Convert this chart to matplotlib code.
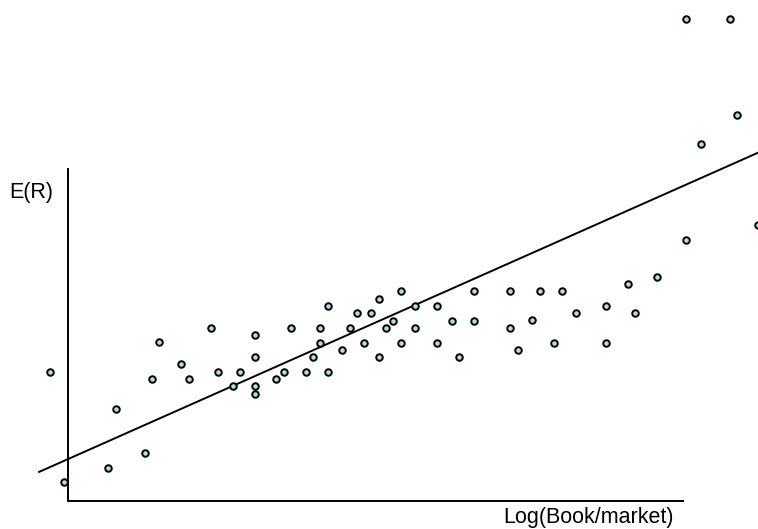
import matplotlib
matplotlib.use("Agg")
import matplotlib.pyplot as plt
import numpy as np

# scatter of expected return vs log(book/market), axis units are arbitrary
log_bm = [-0.29, -0.07, 0.65, 0.78, 1.25, 1.37, 1.48, 1.84, 1.97, 2.33,
          2.44, 2.68, 2.80, 3.04, 3.04, 3.04, 3.04, 3.38, 3.51, 3.63,
          3.87, 3.98, 4.10, 4.10, 4.23, 4.23, 4.46, 4.59, 4.70, 4.81,
          4.93, 5.06, 5.06, 5.17, 5.28, 5.41, 5.41, 5.64, 5.64, 6.00,
          6.00, 6.24, 6.36, 6.60, 6.60, 7.19, 7.19, 7.32, 7.54, 7.67,
          7.90, 8.03, 8.26, 8.75, 8.75, 9.11, 9.22, 9.58, 10.05, 10.29,
          10.05, 10.76, 10.88, 11.22]
exp_ret = [3.11, 0.46, 0.80, 2.22, 1.16, 2.94, 3.83, 3.30, 2.94, 4.17,
           3.11, 2.77, 3.11, 4.00, 3.47, 2.77, 2.58, 2.94, 3.11, 4.17,
           3.11, 3.47, 4.17, 3.81, 3.11, 4.70, 3.64, 4.17, 4.53, 3.81,
           4.53, 4.87, 3.47, 4.17, 4.34, 5.06, 3.81, 4.70, 4.17, 4.70,
           3.81, 4.34, 3.47, 5.06, 4.34, 5.06, 4.17, 3.64, 4.36, 5.06,
           3.81, 5.06, 4.53, 4.70, 3.81, 5.23, 4.53, 5.40, 6.29, 8.60,
           11.61, 11.61, 9.30, 6.65]

# fitted line
fit_intercept = 1.01
fit_slope = 0.658
fit_range = [-0.47, 11.22]

W, H = 758, 529
fig = plt.figure(figsize=(W / 100, H / 100), dpi=100)
ax = fig.add_axes([68 / W, 28 / H, 615 / W, 332 / H])
ax.set_xlim(0, 10)
ax.set_ylim(0, 8)

fx = np.array(fit_range)
ax.plot(fx, fit_intercept + fit_slope * fx, color='black', lw=1.4, clip_on=False, zorder=2)
ax.scatter(log_bm, exp_ret, s=22, c='#b3dfe0', edgecolors='black', linewidths=1.4,
           clip_on=False, zorder=3)

# only left and bottom axis lines, no ticks
for side in ['top', 'right']:
    ax.spines[side].set_visible(False)
for side in ['left', 'bottom']:
    ax.spines[side].set_linewidth(1.4)
ax.set_xticks([])
ax.set_yticks([])

fig.text(9 / W, 1 - 193 / H, 'E(R)', ha='left', va='center', fontsize=15.5,
         family='Liberation Sans')
fig.text(674 / W, 1 - 518 / H, 'Log(Book/market)', ha='right', va='center', fontsize=15.5,
         family='Liberation Sans')

fig.savefig('out.png', dpi=100)
